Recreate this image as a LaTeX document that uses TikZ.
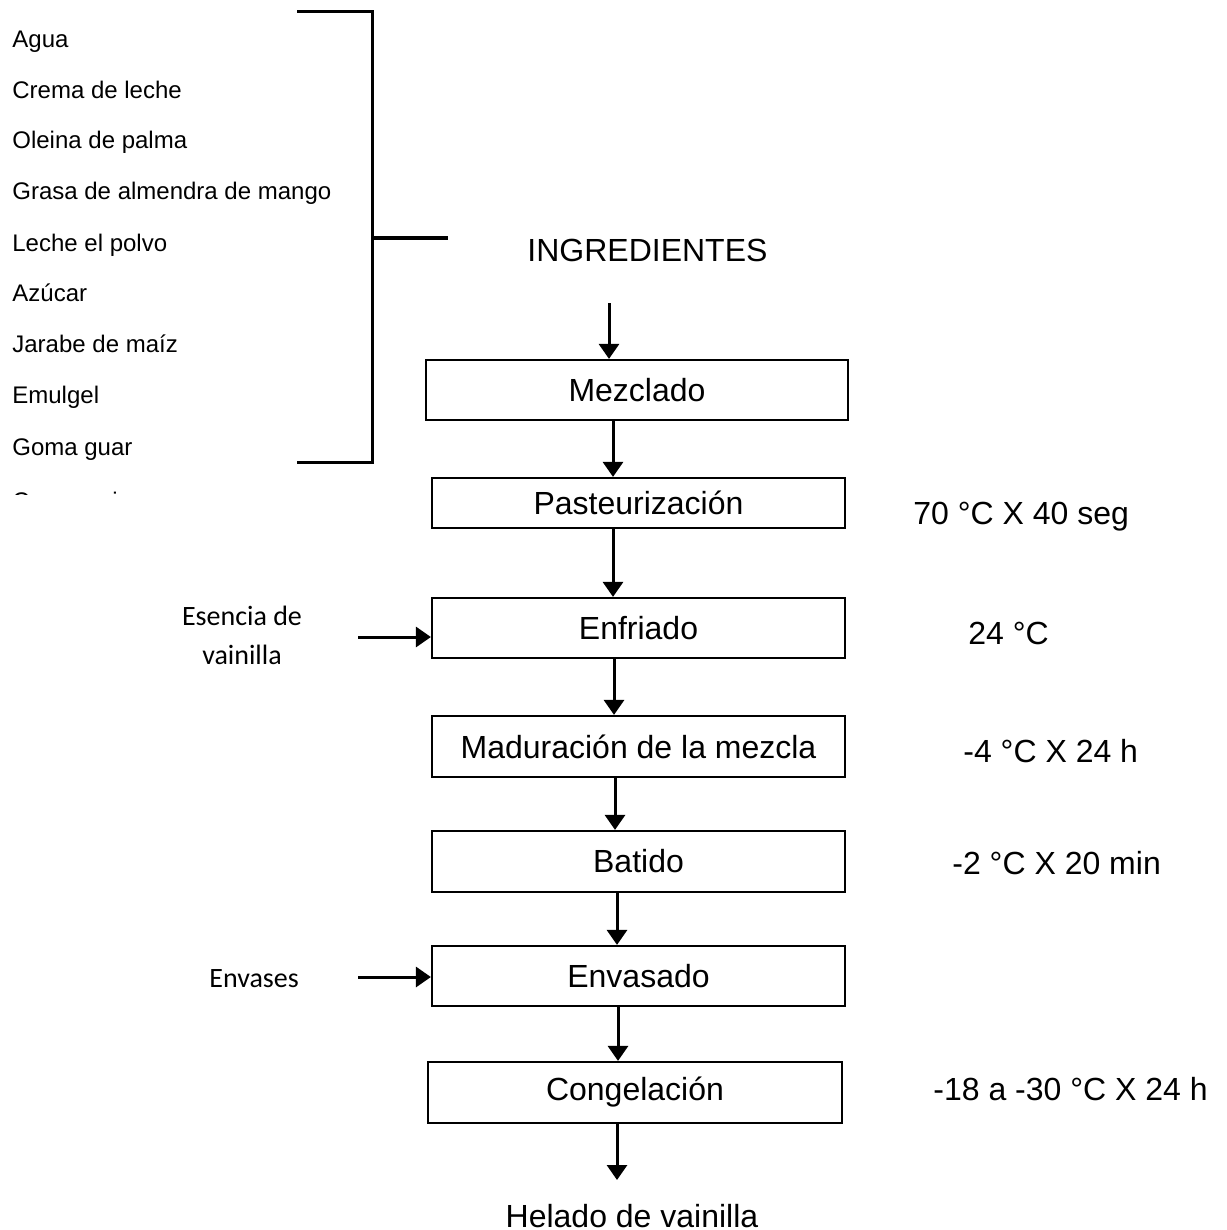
\documentclass[tikz,border=0pt]{standalone}
\usepackage{fontspec}
\setmainfont{Liberation Sans}
\newfontfamily\calib{Carlito}
\usetikzlibrary{arrows.meta}
\begin{document}
\begin{tikzpicture}[x=0.5pt,y=-0.5pt,
 box/.style={draw,line width=1.1pt,inner sep=0pt,font=\fontsize{16}{19}\selectfont},
 arr/.style={line width=1.5pt,-{Triangle[length=7.5pt,width=10pt]}},
 ingr/.style={anchor=base west,inner sep=0pt,font=\fontsize{12}{14}\selectfont},
 lab/.style={anchor=base west,inner sep=0pt,font=\fontsize{16}{19}\selectfont},
 side/.style={inner sep=0pt,align=center,font=\calib\fontsize{14}{19.5}\selectfont},
 brk/.style={line width=1.5pt}]
\useasboundingbox (0,0) rectangle (1226,1230);
\fill[white] (0,0) rectangle (1226,1230);

% ingredient list
\node[ingr] (i1) at (12,48) {Agua};
\node[ingr] (i2) at (12,99) {Crema de leche};
\node[ingr] (i3) at (12,149) {Oleina de palma};
\node[ingr] (i4) at (12,200) {Grasa de almendra de mango};
\node[ingr] (i5) at (12,251) {Leche el polvo};
\node[ingr] (i6) at (12,301) {Azúcar};
\node[ingr] (i7) at (12,352) {Jarabe de maíz};
\node[ingr] (i8) at (12,403) {Emulgel};
\node[ingr] (i9) at (12,455) {Goma guar};
\begin{scope}
\clip (0,0) rectangle (300,494);
\node[ingr] (i10) at (12,509) {Carragenina};
\end{scope}

% bracket
\draw[brk] (297,12) -- (372,12) -- (372,462) -- (297,462);
\draw[brk] (372,238) -- (448,238);

% title
\node[lab] (ingt) at (527,262) {INGREDIENTES};

% process boxes
\node[box,minimum width=211pt,minimum height=30pt] (mez) at (637,390) {Mezclado};
\node[box,minimum width=206.5pt,minimum height=25pt] (past) at (638.5,503) {Pasteurización};
\node[box,minimum width=206.5pt,minimum height=30pt] (enf) at (638.5,628) {Enfriado};
\node[box,minimum width=206.5pt,minimum height=30.5pt] (mad) at (638.5,746.5) {Maduración de la mezcla};
\node[box,minimum width=206.5pt,minimum height=30.5pt] (bat) at (638.5,861.5) {Batido};
\node[box,minimum width=206.5pt,minimum height=30pt] (env) at (638.5,976) {Envasado};
\node[box,minimum width=207pt,minimum height=30.5pt] (cong) at (635,1092.5) {Congelación};

\node[lab,anchor=base] (hel) at (632,1227) {Helado de vainilla};

% vertical arrows
\coordinate (a0) at (609,303);
\draw[arr] (a0) -- (a0 |- mez.north);
\draw[arr] (mez.south -| 613,0) -- (past.north -| 613,0);
\draw[arr] (past.south -| 613,0) -- (enf.north -| 613,0);
\draw[arr] (enf.south -| 614,0) -- (mad.north -| 614,0);
\draw[arr] (mad.south -| 615,0) -- (bat.north -| 615,0);
\draw[arr] (bat.south -| 617,0) -- (env.north -| 617,0);
\draw[arr] (env.south -| 618,0) -- (cong.north -| 618,0);
\coordinate (a8) at (617,1180);
\draw[arr] (cong.south -| a8) -- (a8);

% side inputs
\node[side,anchor=base] (esen) at (242,664) {Esencia de\\vainilla};
\coordinate (e0) at (358,637);
\draw[arr] (e0) -- (e0 -| enf.west);
\node[side,anchor=base west] (envs) at (209,987) {Envases};
\coordinate (v0) at (358,977);
\draw[arr] (v0) -- (v0 -| env.west);

% conditions
\node[lab] (c1) at (913,524) {70 °C X 40 seg};
\node[lab] (c2) at (968,644) {24 °C};
\node[lab] (c3) at (963,762) {-4 °C X 24 h};
\node[lab] (c4) at (952,874) {-2 °C X 20 min};
\node[lab] (c5) at (933,1100) {-18 a -30 °C X 24 h};
\end{tikzpicture}
\end{document}
